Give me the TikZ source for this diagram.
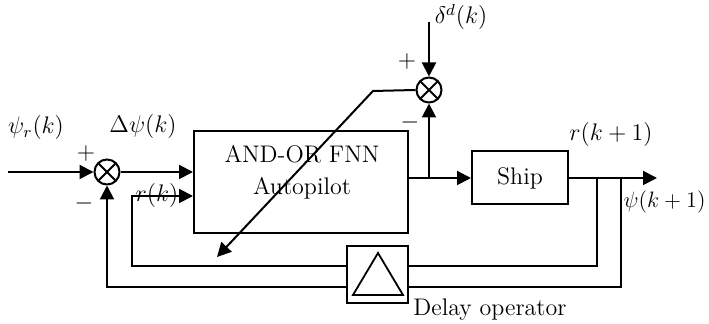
\documentclass[tikz,border=0pt]{standalone}
\usetikzlibrary{arrows.meta,calc}

\tikzset{
  wire/.style={line width=1pt},
  blk/.style={draw, line width=1pt, rectangle, inner sep=0pt},
  sumc/.style={draw, line width=1pt, circle, minimum size=12.5pt, inner sep=0pt,
    path picture={
      \draw[line width=0.9pt] (path picture bounding box.north west) -- (path picture bounding box.south east)
                              (path picture bounding box.north east) -- (path picture bounding box.south west);}},
  lbl/.style={inner sep=0pt},
  >={Triangle[length=7pt,width=7pt]}
}

\begin{document}
\begin{tikzpicture}[x=0.5pt,y=-0.5pt,font=\fontsize{12}{16}\selectfont]
\useasboundingbox (0,0) rectangle (709,324);

% blocks
\node[blk, minimum width=107pt, minimum height=51pt] (ap) at (301,182) {};
\node[lbl, align=center] (aptext) at (302,172) {AND-OR FNN\\Autopilot};
\node[blk, minimum width=48pt, minimum height=26.5pt] (ship) at (520,178) {Ship};
\node[blk, minimum width=30.5pt, minimum height=28.5pt] (dly) at (377.5,274.5) {};
\draw[line width=0.9pt] (378,253) -- (403,295) -- (353,295) -- cycle;

% summing junctions
\node[sumc] (s1) at (107,172) {};
\node[sumc] (s2) at (429,90) {};

% named points
\coordinate (in) at (8,172);
\coordinate (out) at (657,178);
\coordinate (tapr) at (597,178);
\coordinate (tappsi) at (621,178);
\coordinate (rk) at (132,196);
\coordinate (din) at (429,22);
\coordinate (bend) at (373,91);
\coordinate (tip) at (217,257);
\coordinate (d1r) at ([yshift=4.25pt]dly.east);
\coordinate (d1l) at ([yshift=4.25pt]dly.west);
\coordinate (d2r) at ([yshift=-6.25pt]dly.east);
\coordinate (d2l) at ([yshift=-6.25pt]dly.west);

% forward path
\draw[wire,->] (in) -- (s1.west);
\draw[wire,->] (s1.east) -- (s1.east -| ap.west);
\draw[wire,->] (ap.east |- ship.west) -- (ship.west);
\draw[wire,->] (ship.east) -- (out);

% disturbance summation and adaptation arrow
\draw[wire,->] (din) -- (s2.north);
\draw[wire,->] (s2 |- ship.west) -- (s2.south);
\draw[wire,->] (s2.west) -- (bend) -- (tip);

% feedback through the delay operator
\draw[wire] (tapr) |- (d1r);
\draw[wire,->] (d1l) -| (rk) -- (rk -| ap.west);
\draw[wire] (tappsi) |- (d2r);
\draw[wire,->] (d2l) -| (s1.south);

% labels
\node[lbl] (lpsir) at (36,128) {$\psi_r(k)$};
\node[lbl] (lp1) at (86,154) {$+$};
\node[lbl] (lm1) at (84,204) {$-$};
\node[lbl] (ldpsi) at (143,127) {$\Delta\psi(k)$};
\node[lbl] (lrk) at (157,196) {$r(k)$};
\node[lbl] (ldel) at (461,17) {$\delta^{d}(k)$};
\node[lbl] (lp2) at (407,62) {$+$};
\node[lbl] (lm2) at (410,123) {$-$};
\node[lbl] (lrk1) at (611,135) {$r(k+1)$};
\node[lbl, anchor=east, scale=0.93] (lpsi1) at (706,202) {$\psi(k+1)$};
\node[lbl, anchor=west] (ldop) at (413,310) {Delay operator};
\end{tikzpicture}
\end{document}
